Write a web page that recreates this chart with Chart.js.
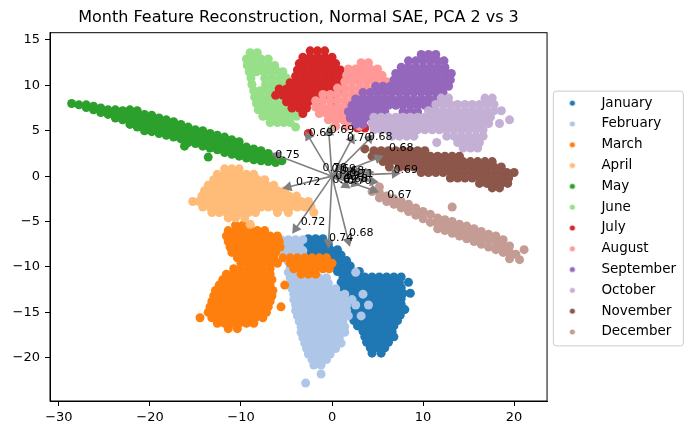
<!DOCTYPE html>
<html>
<head>
<meta charset="utf-8">
<script src="https://cdn.jsdelivr.net/npm/chart.js@4.4.1/dist/chart.umd.min.js"></script>
<style>
  html, body { margin: 0; padding: 0; background: #fff; }
</style>
</head>
<body>
<canvas id="myChart" width="693" height="435"></canvas>
<script>
'use strict';

const months = [' January', ' February', ' March', ' April', ' May', ' June',
    ' July', ' August', ' September', ' October', ' November', ' December'];

// rows: [y, x, x, ...]   cols: [x, y, y, ...]
const janRows = [
    [-6.9, -2.6, -1.8, -1.0],
    [-7.5, -2.8, -2.0, -1.2, -0.4],
    [-8.1, -2.6, -1.8, -1.0, -0.2, 0.6],
    [-8.7, -2.2, -1.4, -0.6, 0.2, 1.0],
    [-9.3, -1.6, -0.8, 0.0, 0.8, 1.6],
    [-9.9, -0.4, 0.4, 1.2, 2.0],
    [-10.5, 0.6, 1.4, 2.2, 3.0],
    [-11.1, 1.2, 2.0, 2.8, 3.6, 4.4, 5.2, 6.0, 6.8, 7.6],
    [-11.7, 1.0, 1.8, 2.6, 3.4, 4.2, 5.0, 5.8, 6.6, 7.4, 8.4],
    [-12.3, 1.2, 2.0, 2.8, 3.6, 4.4, 5.2, 6.0, 6.8, 7.6],
    [-12.9, 1.4, 2.2, 3.0, 3.8, 4.6, 5.4, 6.2, 7.0, 7.8, 8.6],
    [-13.5, 1.2, 2.0, 2.8, 3.6, 4.4, 5.2, 6.0, 6.8, 7.6],
    [-14.1, 1.4, 2.2, 3.0, 3.8, 4.6, 5.4, 6.2, 7.0, 7.6],
    [-14.7, 1.6, 2.4, 3.2, 4.0, 4.8, 5.6, 6.4, 7.2, 8.0],
    [-15.3, 2.0, 2.8, 3.6, 4.4, 5.2, 6.0, 6.8, 7.5],
    [-15.9, 2.4, 3.2, 4.0, 4.8, 5.6, 6.4, 7.2],
    [-16.5, 2.8, 3.6, 4.4, 5.2, 6.0, 6.8],
    [-17.1, 3.4, 4.2, 5.0, 5.8, 6.6],
    [-17.7, 3.6, 4.4, 5.2, 6.0, 6.8],
    [-18.3, 3.8, 4.6, 5.4, 6.2],
    [-18.9, 4.2, 5.0, 5.8],
    [-19.5, 4.4, 5.4]
];
const febRows = [
    [-7.0, -5.6, -4.8, -4.0, -3.2],
    [-7.6, -6.0, -5.2, -4.4, -3.6],
    [-8.2, -5.6, -4.8, -4.0, -3.2],
    [-8.8, -6.8, -5.2, -4.4, -3.6],
    [-9.4, -4.8, -4.0],
    [-10.0, -4.6, -3.8],
    [-10.6, -4.8, -4.0, -3.2, -2.4, 2.6],
    [-11.2, -4.6, -3.8, -3.0, -2.2, -1.4, -0.6],
    [-11.8, -4.4, -3.6, -2.8, -2.0, -1.2, -0.4],
    [-12.4, -4.4, -3.6, -2.8, -2.0, -1.2, -0.4, 0.4],
    [-13.0, -4.2, -3.4, -2.6, -1.8, -1.0, -0.2, 0.6, 1.4, 3.4],
    [-13.6, -4.2, -3.4, -2.6, -1.8, -1.0, -0.2, 0.6, 1.4, 2.2],
    [-14.2, -4.0, -3.2, -2.4, -1.6, -0.8, 0.0, 0.8, 1.6, 2.6, 4.0],
    [-14.8, -4.0, -3.2, -2.4, -1.6, -0.8, 0.0, 0.8, 1.6],
    [-15.4, -3.8, -3.0, -2.2, -1.4, -0.6, 0.2, 1.0, 1.8, 3.2],
    [-16.0, -3.6, -2.8, -2.0, -1.2, -0.4, 0.4, 1.2],
    [-16.6, -3.4, -2.6, -1.8, -1.0, -0.2, 0.6, 1.4],
    [-17.2, -3.4, -2.6, -1.8, -1.0, -0.2, 0.6, 1.4],
    [-17.8, -3.2, -2.4, -1.6, -0.8, 0.0, 0.8],
    [-18.4, -3.0, -2.2, -1.4, -0.6, 0.2, 1.0],
    [-19.0, -2.8, -2.0, -1.2, -0.4, 0.4],
    [-19.6, -2.6, -1.8, -1.0, -0.2],
    [-20.2, -2.2, -1.4, -0.6],
    [-20.8, -2.0, -1.2],
    [-21.8, -1.2],
    [-22.8, -2.9]
];
const marRows = [
    [-5.4, -10.6, -9.8, -9.0],
    [-6.0, -11.4, -10.6, -9.8, -9.0, -8.2, -7.4],
    [-6.6, -11.6, -10.8, -10.0, -9.2, -8.4, -7.6, -6.8, -6.0],
    [-7.2, -11.4, -10.6, -9.8, -9.0, -8.2, -7.4, -6.6, -5.8],
    [-7.8, -11.2, -10.4, -9.6, -8.8, -8.0, -7.2, -6.4, -5.7],
    [-8.4, -11.0, -10.2, -9.4, -8.6, -7.8, -7.0, -6.2],
    [-9.0, -10.4, -9.6, -8.8, -8.0, -7.2, -6.4, -5.4, -4.6, -3.8, -3.0, -2.2, -1.4, -0.6],
    [-9.6, -10.0, -9.2, -8.4, -7.6, -6.8, -6.0, -4.6, -3.8, -3.0, -2.2, -1.4, -0.6, 0.0],
    [-10.2, -10.8, -10.0, -9.2, -8.4, -7.6, -6.8, -4.2, -3.4, -2.6, -1.8, -1.0, -0.3],
    [-10.8, -11.6, -10.8, -10.0, -9.2, -8.4, -7.6, -6.8, -3.4, -2.6, -1.8],
    [-11.4, -12.0, -11.2, -10.4, -9.6, -8.8, -8.0, -7.2, -6.6],
    [-12.0, -12.4, -11.6, -10.8, -10.0, -9.2, -8.4, -7.6, -6.8, -5.2],
    [-12.6, -12.8, -12.0, -11.2, -10.4, -9.6, -8.8, -8.0, -7.2, -6.5],
    [-13.2, -13.0, -12.2, -11.4, -10.6, -9.8, -9.0, -8.2, -7.4, -6.6],
    [-13.8, -13.2, -12.4, -11.6, -10.8, -10.0, -9.2, -8.4, -7.6, -6.8],
    [-14.4, -13.4, -12.6, -11.8, -11.0, -10.2, -9.4, -8.6, -7.8, -7.0, -5.6],
    [-15.0, -13.6, -12.8, -12.0, -11.2, -10.4, -9.6, -8.8, -8.0, -7.2],
    [-15.6, -14.5, -13.2, -12.4, -11.6, -10.8, -10.0, -9.2, -8.4, -7.6],
    [-16.2, -12.6, -11.8, -11.0, -10.2, -9.4, -8.6],
    [-16.8, -11.4, -10.4]
];
const aprRows = [
    [0.8, -11.8, -11.0, -10.2],
    [0.2, -12.6, -11.8, -11.0, -10.2, -9.4, -8.6],
    [-0.4, -13.0, -12.2, -11.4, -10.6, -9.8, -9.0, -8.2, -7.4],
    [-1.0, -13.6, -12.8, -12.0, -11.2, -10.4, -9.6, -8.8, -8.0, -7.2, -6.4],
    [-1.6, -14.0, -13.2, -12.4, -11.6, -10.8, -10.0, -9.2, -8.4, -7.6, -6.8, -6.0, -5.2],
    [-2.2, -14.3, -13.5, -12.7, -11.9, -11.1, -10.3, -9.5, -8.7, -7.9, -7.1, -6.3, -5.5, -4.7, -3.9],
    [-2.8, -15.3, -14.6, -13.8, -13.0, -12.2, -11.4, -10.6, -9.8, -9.0, -8.2, -7.4, -6.6, -5.8, -5.0, -4.2, -3.4, -2.6],
    [-3.4, -14.2, -13.4, -12.6, -11.8, -11.0, -10.2, -9.4, -8.6, -7.8, -7.0, -6.2, -5.4, -4.6, -3.8, -3.0, -2.3],
    [-4.0, -13.2, -12.4, -11.6, -10.8, -10.0, -9.2, -8.4, -6.0, -4.8, -2.0],
    [-4.6, -11.4, -10.6, -9.6],
    [-5.3, -9.0]
];
const mayCols = [
    [-28.6, 8.0],
    [-27.8, 7.85],
    [-27.0, 7.55, 7.85],
    [-26.2, 7.3, 7.7],
    [-25.4, 7.0, 7.5],
    [-24.6, 6.8, 7.3],
    [-23.8, 6.4, 6.9, 7.3],
    [-23.0, 6.2, 6.7, 7.2],
    [-22.2, 5.7, 6.3, 6.9, 7.3],
    [-21.4, 5.4, 6.0, 6.6, 7.2],
    [-20.6, 5.0, 5.6, 6.2, 6.8],
    [-19.8, 4.9, 5.5, 6.1, 6.7],
    [-19.0, 4.7, 5.3, 5.9, 6.4],
    [-18.2, 4.5, 5.1, 5.7, 6.2],
    [-17.4, 4.3, 4.9, 5.5, 6.0],
    [-16.6, 4.1, 4.7, 5.3, 5.7],
    [-16.2, 3.3],
    [-15.8, 3.7, 4.3, 4.9, 5.4],
    [-15.0, 3.6, 4.2, 4.8, 5.1],
    [-14.2, 3.3, 3.9, 4.5, 5.0],
    [-13.6, 2.1],
    [-13.4, 3.1, 3.7, 4.3, 4.7],
    [-12.6, 2.9, 3.5, 4.1, 4.5],
    [-11.8, 2.6, 3.2, 3.8, 4.3],
    [-11.0, 2.4, 3.0, 3.6, 4.0],
    [-10.2, 2.2, 2.8, 3.4, 3.8],
    [-9.4, 2.0, 2.6, 3.2],
    [-8.6, 1.8, 2.4, 3.0],
    [-7.8, 1.7, 2.2, 2.8],
    [-7.0, 1.6, 2.1, 2.5],
    [-6.2, 1.5, 2.0],
    [-5.5, 1.7]
];
const junRows = [
    [13.6, -9.0, -8.2],
    [12.9, -9.4, -8.6, -7.8, -7.0],
    [12.2, -9.3, -8.5, -7.7, -6.9, -6.3],
    [11.5, -9.1, -8.3, -7.5, -6.7, -5.9, -5.4],
    [10.8, -8.9, -7.4, -6.6, -5.8, -5.0],
    [10.1, -8.8, -7.3, -6.5, -5.7, -4.9],
    [9.4, -8.6, -7.9, -7.1, -6.3, -5.5, -4.7],
    [8.7, -8.5, -7.8, -7.0, -6.2, -5.4, -4.6, -2.0],
    [8.0, -8.3, -7.6, -6.9, -6.1, -5.3, -4.5, -1.5],
    [7.3, -8.1, -7.4, -6.7, -5.9, -5.1, -4.3],
    [6.6, -7.6, -6.9, -6.2, -5.5, -4.7, -3.9],
    [5.9, -6.8, -6.0, -5.3, -4.6],
    [5.4, -4.0, 0.2]
];
const julRows = [
    [13.8, -2.4, -1.6, -0.8],
    [13.1, -3.2, -2.4, -1.6, -0.8, 0.0],
    [12.4, -3.6, -2.8, -2.0, -1.2, -0.4, 0.4],
    [11.7, -3.8, -3.0, -2.2, -1.4, -0.6, 0.2, 0.9],
    [11.0, -4.0, -3.2, -2.4, -1.6, -0.8, 0.0, 0.8, 1.3],
    [10.3, -4.6, -3.8, -3.0, -2.2, -1.4, -0.6, 0.2, 1.0],
    [9.6, -5.8, -5.0, -4.2, -3.4, -2.6, -1.8, -1.0, -0.2, 0.6, 1.3],
    [8.9, -6.2, -5.4, -4.6, -3.8, -3.0, -2.2, -1.4, -0.6, 0.2],
    [8.2, -5.0, -4.2, -3.4, -2.6, -1.8, 0.0],
    [7.5, -4.4, -3.6, -2.8],
    [6.9, -3.2],
    [5.3, 2.8, 3.6],
    [4.7, -2.6]
];
const augRows = [
    [12.5, 3.2, 4.0],
    [11.8, 1.8, 2.6, 3.4, 4.2, 5.0],
    [11.1, 1.6, 2.4, 3.2, 4.0, 4.8, 5.5],
    [10.4, 1.4, 2.2, 3.0, 3.8, 4.6, 5.4, 6.0],
    [9.7, 0.6, 1.4, 2.2, 3.0, 3.8, 4.6, 5.4, 6.1],
    [9.0, -1.0, -0.2, 0.6, 1.4, 2.2, 3.0, 3.8, 4.6, 5.4, 6.2],
    [8.3, -1.8, -1.0, -0.2, 0.6, 1.4, 2.2, 3.0, 3.8, 4.6, 5.4],
    [7.6, -1.8, -1.0, -0.2, 0.6, 1.4, 2.2, 3.0, 3.8, 4.6],
    [6.9, -1.4, -0.6, 0.2, 1.0, 1.8, 2.6, 3.4],
    [6.2, -0.4, 0.4, 1.2, 2.0],
    [5.5, 0.4, 1.6, 3.0]
];
const sepRows = [
    [13.4, 9.8, 10.6, 11.4],
    [12.7, 8.4, 9.2, 10.0, 10.8, 11.6, 12.3],
    [12.0, 7.6, 8.4, 9.2, 10.0, 10.8, 11.6, 12.4],
    [11.3, 7.0, 7.8, 8.6, 9.4, 10.2, 11.0, 11.8, 12.6, 13.1],
    [10.6, 6.8, 7.6, 8.4, 9.2, 10.0, 10.8, 11.6, 12.4, 13.0],
    [9.9, 4.8, 5.6, 6.4, 7.2, 8.0, 8.8, 9.6, 10.4, 11.2, 12.0, 12.8],
    [9.2, 3.4, 4.2, 5.0, 5.8, 6.6, 7.4, 8.2, 9.0, 9.8, 10.6, 11.4, 12.2],
    [8.5, 2.6, 3.4, 4.2, 5.0, 5.8, 6.6, 7.4, 8.2, 9.0, 9.8, 10.6, 11.4],
    [7.8, 2.2, 3.0, 3.8, 4.6, 5.4, 6.2, 7.0, 7.8, 8.6, 9.4, 10.2, 11.0],
    [7.1, 1.8, 2.6, 3.4, 4.2, 5.0, 5.8, 7.8, 8.6, 9.4],
    [6.4, 2.0, 2.8, 3.6, 4.4],
    [5.7, 2.6, 3.4]
];
const octRows = [
    [8.6, 12.0, 12.8, 16.8, 17.6],
    [7.9, 11.4, 12.2, 13.0, 13.8, 14.6, 15.4, 16.2, 17.0, 17.8],
    [7.2, 10.6, 11.4, 12.2, 13.0, 13.8, 14.6, 15.4, 16.2, 17.0, 17.8, 18.6],
    [6.5, 4.6, 5.4, 6.2, 7.0, 7.8, 8.6, 9.4, 10.2, 11.0, 11.8, 12.6, 13.4, 14.2, 15.0, 15.8, 16.6, 17.4],
    [6.2, 19.5],
    [5.8, 4.4, 5.2, 6.0, 6.8, 7.6, 8.4, 9.2, 10.0, 10.8, 11.6, 12.4, 13.2, 14.0, 14.8, 15.6, 16.4, 17.2, 18.4],
    [5.1, 4.6, 5.4, 6.2, 7.0, 7.8, 8.6, 9.4, 10.2, 11.0, 11.8, 12.6, 13.4, 14.2, 15.0, 15.8, 16.6],
    [4.4, 6.6, 7.4, 8.2, 9.0, 12.6, 13.4, 14.2, 15.0, 15.8, 16.6],
    [3.7, 11.5, 13.8, 14.6, 15.4, 16.2],
    [3.1, 14.4, 15.2, 16.0]
];
const novRows = [
    [3.0, 3.6],
    [2.8, 4.6, 5.4, 6.2, 7.0, 7.8, 8.6, 9.4, 10.2],
    [2.2, 4.4, 5.2, 6.0, 6.8, 7.6, 8.4, 9.2, 10.0, 10.8, 11.6, 12.4, 13.2, 14.0],
    [1.6, 5.6, 6.4, 7.2, 8.0, 8.8, 9.6, 10.4, 11.2, 12.0, 12.8, 13.6, 14.4, 15.2, 16.0, 16.8, 17.6],
    [1.0, 6.3, 7.4, 8.2, 9.0, 9.8, 10.6, 11.4, 12.2, 13.0, 13.8, 14.6, 15.4, 16.2, 17.0, 17.8, 18.6],
    [0.4, 9.8, 10.6, 11.4, 12.2, 13.0, 13.8, 14.6, 15.4, 16.2, 17.0, 17.8, 18.6, 19.2, 20.0],
    [-0.2, 13.0, 13.8, 14.6, 15.4, 16.2, 17.0, 17.8, 18.6, 19.4],
    [-0.8, 16.2, 17.0, 17.8, 18.6, 19.3],
    [-1.3, 17.6, 18.4]
];
const decCols = [
    [4.4, -1.7],
    [5.2, -1.2, -1.8, -2.4],
    [6.0, -2.2, -2.8],
    [6.8, -2.5, -3.1],
    [7.6, -2.8, -3.5],
    [8.4, -3.1, -3.9],
    [9.2, -3.5, -4.3],
    [10.0, -3.9, -4.7],
    [10.8, -4.2, -5.1],
    [11.6, -4.6, -5.2, -5.8],
    [12.4, -4.8, -5.4, -6.0],
    [13.2, -3.4, -5.0, -5.7, -6.3],
    [14.0, -5.3, -5.9, -6.6],
    [14.8, -5.5, -6.2, -6.9],
    [15.6, -5.8, -6.5, -7.2],
    [16.4, -6.1, -6.8, -7.5],
    [17.2, -6.4, -7.0, -7.8],
    [18.0, -6.6, -7.3, -8.1],
    [18.8, -7.0, -7.7, -8.4],
    [19.5, -7.7, -8.4, -9.1],
    [20.2, -8.6],
    [20.6, -9.2],
    [21.1, -8.1]
];

// feature arrows (tip positions) and their labels
const arrowX = [-2.6, -0.35, 2.15, 4.15, 5.05, -6.05, -4.8, 6.9, 4.55, -4.0, -0.37, 1.8,
    1.0, 2.0, 3.0, 4.0, 3.5, 2.5, 1.5, 4.5];
const arrowY = [4.4, 4.8, 4.05, 4.15, 2.0, 2.3, -1.2, 0.3, -1.55, -5.8, -7.3, -7.15,
    1.0, 0.6, 0.5, 0.4, -0.3, -0.8, -1.0, -0.6];
const labelText = ['0.69', '0.69', '0.70', '0.68', '0.68', '0.75', '0.72', '0.69', '0.67', '0.72', '0.74', '0.68',
    '0.70', '0.69', '0.68', '0.71', '0.69', '0.68', '0.69', '0.70'];
const labelX = [-1.2, 1.1, 3.0, 5.3, 7.6, -4.9, -2.6, 8.1, 7.4, -2.1, 1.0, 3.2,
    0.3, 1.3, 2.2, 3.2, 1.7, 2.6, 1.4, 3.0];
const labelY = [4.7, 5.1, 4.2, 4.3, 3.1, 2.3, -0.7, 0.7, -2.1, -5.1, -6.8, -6.3,
    0.9, 0.8, 0.5, 0.2, 0.0, -0.3, -0.4, -0.6];

const xTicks = [-30, -20, -10, 0, 10, 20];
const yTicks = [-20, -15, -10, -5, 0, 5, 10, 15];

const colors = ['#1f77b4', '#aec7e8', '#ff7f0e', '#ffbb78', '#2ca02c', '#98df8a',
    '#d62728', '#ff9896', '#9467bd', '#c5b0d5', '#8c564b', '#c49c94'];

function fromRows(rows) {
    const pts = [];
    rows.forEach(r => { for (let i = 1; i < r.length; i++) pts.push({ x: r[i], y: r[0] }); });
    return pts;
}
function fromCols(cols) {
    const pts = [];
    cols.forEach(c => { for (let i = 1; i < c.length; i++) pts.push({ x: c[0], y: c[i] }); });
    return pts;
}

const monthPoints = [fromRows(janRows), fromRows(febRows), fromRows(marRows), fromRows(aprRows),
    fromCols(mayCols), fromRows(junRows), fromRows(julRows), fromRows(augRows),
    fromRows(sepRows), fromRows(octRows), fromRows(novRows), fromCols(decCols)];

function dotImage(color) {
    const c = document.createElement('canvas');
    c.width = 8;
    c.height = 8;
    const g = c.getContext('2d');
    g.fillStyle = color;
    g.beginPath();
    g.arc(4, 4, 2.6, 0, Math.PI * 2);
    g.fill();
    return c;
}

const datasets = months.map((m, i) => ({
    label: m,
    data: monthPoints[i],
    backgroundColor: colors[i],
    pointBorderWidth: 0,
    pointRadius: 4.5,
    pointHoverRadius: 4.5,
    order: 12 - i
}));

arrowX.forEach((ax, i) => {
    const rot = Math.atan2(ax, arrowY[i]) * 180 / Math.PI;
    datasets.push({
        label: 'arrow',
        data: [{ x: 0, y: 0 }, { x: ax, y: arrowY[i] }],
        showLine: true,
        borderColor: '#808080',
        borderWidth: 1.6,
        backgroundColor: '#808080',
        pointBorderWidth: 0,
        pointRadius: [0, 6],
        pointHoverRadius: [0, 6],
        pointStyle: 'triangle',
        pointRotation: [0, rot],
        order: 0
    });
});

// text next to the arrows
const arrowLabels = {
    id: 'arrowLabels',
    afterDatasetsDraw(chart) {
        const { ctx, scales: { x, y } } = chart;
        ctx.save();
        ctx.font = '11px "DejaVu Sans"';
        ctx.fillStyle = '#000';
        ctx.textAlign = 'center';
        ctx.textBaseline = 'middle';
        labelText.forEach((t, i) => {
            ctx.fillText(t, x.getPixelForValue(labelX[i]), y.getPixelForValue(labelY[i]));
        });
        ctx.restore();
    }
};

// axes box + legend frame
const frames = {
    id: 'frames',
    afterDraw(chart) {
        const { ctx, chartArea: a } = chart;
        ctx.save();
        ctx.strokeStyle = '#000';
        ctx.lineWidth = 1;
        ctx.strokeRect(a.left, a.top, a.right - a.left, a.bottom - a.top);

        const hb = chart.legend.legendHitBoxes;
        if (hb && hb.length) {
            const fs = 13.5;
            const cx = hb[0].left + 18;
            const y0 = hb[0].top + fs / 2 - 12;
            const y1 = hb[hb.length - 1].top + fs / 2 + 14;
            ctx.strokeStyle = '#cccccc';
            ctx.beginPath();
            ctx.roundRect(cx - 19, y0, 130, y1 - y0, 3);
            ctx.stroke();
        }
        ctx.restore();
    }
};

Chart.defaults.font.family = '"DejaVu Sans"';
Chart.defaults.color = '#000';

const ctx = document.getElementById('myChart').getContext('2d');
const chart = new Chart(ctx, {
    type: 'scatter',
    data: { datasets: datasets },
    plugins: [arrowLabels, frames],
    options: {
        responsive: false,
        animation: false,
        layout: { padding: { right: 7 } },
        plugins: {
            title: {
                display: true,
                text: 'Month Feature Reconstruction, Normal SAE, PCA 2 vs 3',
                font: { size: 16, weight: 'normal' },
                color: '#000',
                fullSize: false,
                padding: { top: 8, bottom: 5.5 }
            },
            legend: {
                position: 'right',
                align: 'center',
                labels: {
                    usePointStyle: true,
                    pointStyleWidth: 36,
                    padding: 7.3,
                    color: '#000',
                    font: { size: 13.5 },
                    generateLabels: () => months.map((m, i) => ({
                        text: m,
                        pointStyle: dotImage(colors[i]),
                        fillStyle: colors[i],
                        strokeStyle: colors[i],
                        lineWidth: 0,
                        hidden: false,
                        datasetIndex: i,
                        fontColor: '#000'
                    }))
                }
            },
            tooltip: { enabled: false }
        },
        scales: {
            x: {
                type: 'linear',
                min: -30.98,
                max: 23.62,
                afterBuildTicks: (scale) => { scale.ticks = xTicks.map(v => ({ value: v })); },
                afterFit: (scale) => { scale.height = 34; },
                ticks: {
                    padding: 4,
                    font: { size: 13 },
                    color: '#000',
                    maxRotation: 0,
                    callback: (v) => v < 0 ? '\u2212' + Math.abs(v) : String(v)
                },
                grid: { display: true, drawOnChartArea: false, drawTicks: true, tickLength: 5, color: '#000' },
                border: { display: true, color: '#000', width: 1 }
            },
            y: {
                type: 'linear',
                min: -24.77,
                max: 15.8,
                afterBuildTicks: (scale) => { scale.ticks = yTicks.map(v => ({ value: v })); },
                afterFit: (scale) => { scale.width = 50; },
                ticks: {
                    padding: 5,
                    font: { size: 13 },
                    color: '#000',
                    callback: (v) => v < 0 ? '\u2212' + Math.abs(v) : String(v)
                },
                grid: { display: true, drawOnChartArea: false, drawTicks: true, tickLength: 5, color: '#000' },
                border: { display: true, color: '#000', width: 1 }
            }
        }
    }
});
</script>
</body>
</html>
